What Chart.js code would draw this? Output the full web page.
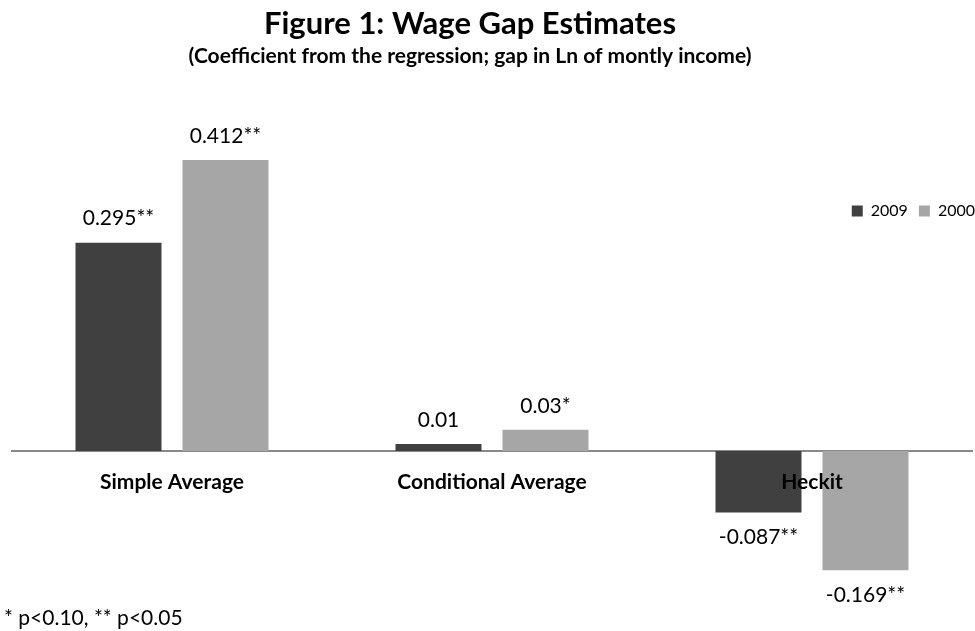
<!DOCTYPE html>
<html>
<head>
<meta charset="utf-8">
<script src="https://cdn.jsdelivr.net/npm/chart.js@4.4.1/dist/chart.umd.min.js"></script>
<style>
html,body{margin:0;padding:0;background:#fff;}
canvas{display:block;}
</style>
</head>
<body>
<canvas id="c" width="975" height="631"></canvas>
<script>
// ---- data ----
const CATEGORIES = ['Simple Average', 'Conditional Average', 'Heckit'];
const SERIES_NAMES = ['2009', '2000'];
const VALUES_2009 = [0.295, 0.01, -0.087];
const VALUES_2000 = [0.412, 0.03, -0.169];
const LABELS_2009 = ['0.295**', '0.01', '-0.087**'];
const LABELS_2000 = ['0.412**', '0.03*', '-0.169**'];
const TITLE = 'Figure 1: Wage Gap Estimates';
const SUBTITLE = '(Coefficient from the regression; gap in Ln of montly income)';
const FOOTNOTE = '* p<0.10, ** p<0.05';

const COLOR_2009 = '#404040';
const COLOR_2000 = '#a6a6a6';

Chart.defaults.font.family = "Lato, 'Open Sans', sans-serif";
Chart.defaults.color = '#000';

const barLabels = {
  id: 'barLabels',
  afterDatasetsDraw(chart) {
    const ctx = chart.ctx;
    const texts = [LABELS_2009, LABELS_2000];
    ctx.save();
    ctx.font = "21px Lato, 'Open Sans', sans-serif";
    ctx.fillStyle = '#000';
    ctx.textAlign = 'center';
    ctx.textBaseline = 'middle';
    chart.data.datasets.forEach((ds, i) => {
      const meta = chart.getDatasetMeta(i);
      meta.data.forEach((el, j) => {
        const v = ds.data[j];
        const y = v >= 0 ? el.y - 24 : el.y + 25;
        ctx.fillText(texts[i][j], el.x, y);
      });
    });
    ctx.restore();
  }
};

const footnote = {
  id: 'footnote',
  afterDraw(chart) {
    const ctx = chart.ctx;
    ctx.save();
    ctx.font = "21px Lato, 'Open Sans', sans-serif";
    ctx.fillStyle = '#000';
    ctx.textAlign = 'left';
    ctx.textBaseline = 'middle';
    ctx.fillText(FOOTNOTE, 4, 618);
    ctx.restore();
  }
};

const placeBoxes = {
  id: 'placeBoxes',
  afterLayout(chart) {
    chart.boxes.forEach(b => {
      if (b.options && (b.options.text === TITLE || b.options.text === SUBTITLE)) {
        b.left -= 22; b.right -= 22;
      }
    });
    const lg = chart.legend;
    if (lg) {
      const w = lg.right - lg.left;
      lg.right = chart.width + 11;
      lg.left = lg.right - w;
      lg.top = 192;
      lg.bottom = lg.top + 44;
    }
  }
};

function start() {
  new Chart(document.getElementById('c'), {
    type: 'bar',
    data: {
      labels: CATEGORIES,
      datasets: [
        { label: SERIES_NAMES[0], data: VALUES_2009, backgroundColor: COLOR_2009, borderWidth: 0 },
        { label: SERIES_NAMES[1], data: VALUES_2000, backgroundColor: COLOR_2000, borderWidth: 0 }
      ]
    },
    options: {
      responsive: false,
      animation: false,
      events: [],
      categoryPercentage: 0.66875,
      barPercentage: 0.8037,
      layout: { padding: { top: 0, left: 12, right: 3, bottom: 11 } },
      scales: {
        x: {
          type: 'category',
          position: { y: 0 },
          grid: { display: false, drawTicks: false },
          border: { display: true, color: '#898989', width: 2 },
          ticks: { z: 1, color: '#000', font: { size: 21, weight: 'bold' }, padding: 19, maxRotation: 0, autoSkip: false },
          afterFit(s) { s.height = 0; }
        },
        y: {
          display: false,
          min: -0.23928,
          max: 0.49696
        }
      },
      plugins: {
        title: {
          display: true, text: TITLE, color: '#000',
          font: { size: 31, weight: 'bold' },
          padding: { top: 5, bottom: 1 }
        },
        subtitle: {
          display: true, text: SUBTITLE, color: '#000',
          font: { size: 21, weight: 'bold' },
          padding: { top: 0, bottom: 11.6 }
        },
        legend: {
          display: true,
          position: 'top',
          align: 'end',
          maxHeight: 20,
          labels: { boxWidth: 11, boxHeight: 11, padding: 11, color: '#000', font: { size: 16 } }
        },
        tooltip: { enabled: false }
      }
    },
    plugins: [placeBoxes, barLabels, footnote]
  });
}

if (document.fonts && document.fonts.load) {
  Promise.all([
    document.fonts.load("bold 31px Lato"),
    document.fonts.load("21px Lato")
  ]).then(start, start);
} else {
  start();
}
</script>
</body>
</html>
